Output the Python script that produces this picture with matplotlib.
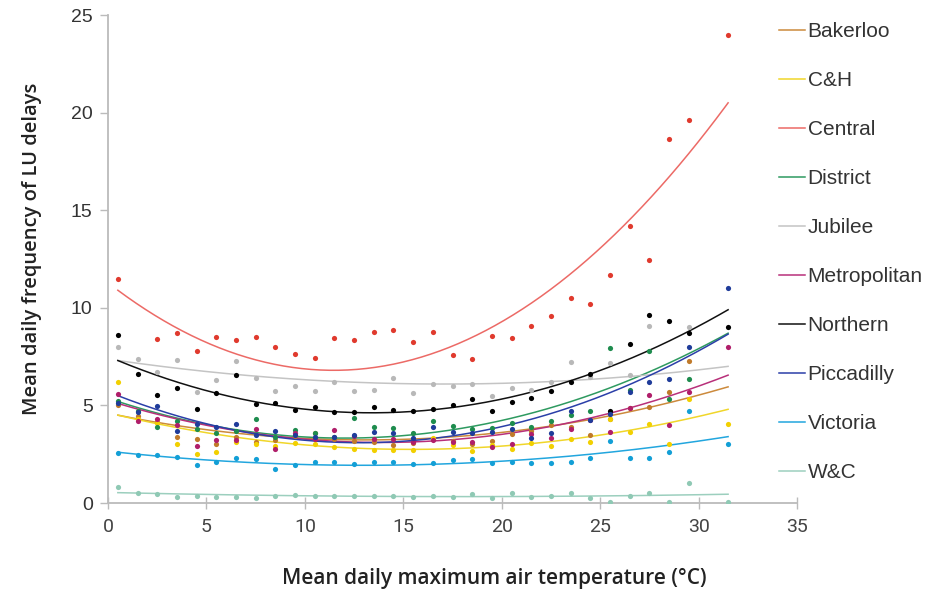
import numpy as np
import matplotlib
matplotlib.use("Agg")
import matplotlib.pyplot as plt

nan = np.nan

# mean daily maximum air temperature bins (°C)
temps = np.arange(0.5, 32.0, 1.0)

lines = ['Bakerloo', 'C&H', 'Central', 'District', 'Jubilee',
         'Metropolitan', 'Northern', 'Piccadilly', 'Victoria', 'W&C']

# mean daily delays per temperature bin
bakerloo = [5.0, 4.47, 4.13, 3.4, 3.26, 3.04, 3.4, 3.1, 3.23, 3.45, 3.6, 3.3,
            3.2, 3.1, 2.95, 3.05, 3.3, 3.2, 3.0, 3.18, 3.53, 3.69, 3.98, 3.9,
            3.48, 4.3, 4.85, 4.94, 5.67, 7.29, nan, nan]
ch = [6.2, 4.3, 4.12, 3.0, 2.53, 2.6, 3.1, 3.0, 2.9, 3.05, 3.0, 2.85,
      2.75, 2.71, 2.71, 2.71, 3.33, 2.99, 2.66, 2.95, 2.78, 3.07, 2.94, 3.3,
      3.14, 4.29, 3.62, 4.06, 3.0, 5.31, nan, 4.03]
central = [11.5, nan, 8.4, 8.7, 7.8, 8.5, 8.35, 8.5, 8.0, 7.65, 7.45, 8.47,
           8.33, 8.75, 8.86, 8.27, 8.75, 7.58, 7.38, 8.54, 8.47, 9.07, 9.56, 10.5,
           10.2, 11.7, 14.2, 12.43, 18.66, 19.6, nan, 23.96]
district = [5.2, 4.7, 3.89, 4.2, 3.8, 3.6, 3.7, 4.29, 3.4, 3.74, 3.59, 3.4,
            4.37, 3.89, 3.86, 3.57, 4.22, 3.94, 3.81, 3.83, 4.08, 3.89, 4.22, 4.5,
            4.7, 7.92, 5.81, 7.79, 5.33, 6.35, nan, nan]
jubilee = [7.99, 7.38, 6.69, 7.33, 5.67, 6.28, 7.26, 6.42, 5.74, 5.98, 5.74, 6.22,
           5.74, 5.81, 6.42, 5.65, 6.08, 6.01, 6.08, 5.46, 5.87, 5.81, 6.2, 7.24,
           6.47, 7.17, 6.56, 9.08, nan, 9.03, nan, nan]
metropolitan = [5.6, 4.2, 4.3, 4.0, 2.94, 3.21, 3.21, 3.81, 2.77, 3.6, 3.3, 3.72,
                3.42, 3.26, 3.26, 3.14, 3.21, 3.14, 3.14, 2.89, 3.02, 3.55, 3.35, 3.79,
                4.25, 3.62, 4.85, 5.52, 4.01, 5.67, nan, 7.97]
northern = [8.59, 6.63, 5.53, 5.87, 4.83, 5.65, 6.56, 5.05, 5.12, 4.78, 4.92, 4.64,
            4.64, 4.93, 4.76, 4.71, 4.82, 5.0, 5.33, 4.70, 5.16, 5.40, 5.74, 6.22,
            6.61, 4.70, 8.13, 9.63, 9.34, 8.69, nan, 9.03]
piccadilly = [5.1, 4.68, 4.99, 3.67, 4.05, 3.88, 4.03, 3.5, 3.67, 3.48, 3.4, 3.4,
              3.48, 3.62, 3.6, 3.33, 3.91, 3.64, 3.57, 3.62, 3.81, 3.35, 3.6, 4.7,
              4.25, 4.56, 5.67, 6.22, 6.34, 7.97, nan, 11.0]
victoria = [2.58, 2.44, 2.44, 2.37, 1.96, 2.12, 2.29, 2.24, 1.76, 1.96, 2.12, 2.08,
            1.98, 2.08, 2.12, 1.98, 2.05, 2.19, 2.25, 2.05, 2.12, 2.05, 2.05, 2.12,
            2.31, 3.19, 2.31, 2.32, 2.63, 4.7, nan, 3.0]
wc = [0.82, 0.51, 0.46, 0.32, 0.38, 0.31, 0.31, 0.24, 0.38, 0.41, 0.38, 0.38,
      0.38, 0.38, 0.35, 0.31, 0.35, 0.31, 0.44, 0.27, 0.51, 0.31, 0.38, 0.51,
      0.24, 0.07, 0.38, 0.51, 0.07, 1.0, nan, 0.07]

# polynomial trend lines, values at these temperatures
trend_temps = [0.5, 16.0, 31.5]
bakerloo_trend = [4.5, 3.3, 5.95]
ch_trend = [4.5, 2.75, 4.8]
central_trend = [10.9, 7.5, 20.5]
district_trend = [5.2, 3.55, 8.7]
jubilee_trend = [7.3, 6.1, 7.0]
metropolitan_trend = [5.1, 3.15, 6.55]
northern_trend = [7.3, 4.73, 9.9]
piccadilly_trend = [5.5, 3.25, 8.65]
victoria_trend = [2.6, 1.97, 3.4]
wc_trend = [0.53, 0.33, 0.45]

series = [bakerloo, ch, central, district, jubilee,
          metropolitan, northern, piccadilly, victoria, wc]
trends = [bakerloo_trend, ch_trend, central_trend, district_trend, jubilee_trend,
          metropolitan_trend, northern_trend, piccadilly_trend, victoria_trend, wc_trend]
dot_colors = ['#C07A2A', '#F2D000', '#E03A2E', '#1E8C4E', '#B8B8B8',
              '#B01E6A', '#000000', '#1F3C9A', '#139FD6', '#8FC9B4']
line_colors = ['#CC8A3C', '#F0D62A', '#EC6A66', '#2E9A60', '#C4C4C4',
               '#B8307A', '#111111', '#2B3FA8', '#22A6DE', '#9CCFBE']

fig = plt.figure(figsize=(9.45, 5.93), dpi=100)
ax = fig.add_axes([108 / 945, 1 - 503 / 593, (797 - 108) / 945, (503 - 15) / 593])

xfit = np.linspace(temps[0], temps[-1], 200)
for name, vals, tr, dc, lc in zip(lines, series, trends, dot_colors, line_colors):
    y = np.array(vals, dtype=float)
    ok = ~np.isnan(y)
    ax.scatter(temps[ok], y[ok], s=14, color=dc, zorder=3, linewidths=0)
    coef = np.polyfit(trend_temps, tr, 2)
    ax.plot(xfit, np.polyval(coef, xfit), color=lc, lw=1.1, label=name, zorder=2)

ax.set_xlim(0, 35)
ax.set_ylim(0, 25)
ax.set_xticks(range(0, 36, 5))
ax.set_yticks(range(0, 26, 5))
for s in ['top', 'right']:
    ax.spines[s].set_visible(False)
for s in ['left', 'bottom']:
    ax.spines[s].set_color('#BBBBBB')
    ax.spines[s].set_linewidth(1.3)
ax.tick_params(colors='#BBBBBB', labelcolor='#333333', width=1.0)
ax.tick_params(axis='y', length=6, pad=5, labelsize=14)
ax.tick_params(axis='x', direction='inout', length=8, pad=7, labelsize=14)
for lab in ax.get_yticklabels():
    lab.set_family('Liberation Sans')
for lab in ax.get_xticklabels():
    lab.set_family('Roboto')
    lab.set_color('#444444')

fig.text(32 / 945, 1 - 249 / 593, 'Mean daily frequency of LU delays', rotation=90,
         ha='center', va='center', fontsize=14.5, fontweight='semibold',
         family='Open Sans', color='#222222')
fig.text(494 / 945, 1 - 578 / 593, 'Mean daily maximum air temperature (°C)',
         ha='center', va='center', fontsize=15, fontweight='semibold',
         family='Open Sans', color='#222222')

leg = ax.legend(loc='upper left', bbox_to_anchor=(779 / 945, 1 - 22 / 593),
                bbox_transform=fig.transFigure, frameon=False,
                handlelength=1.25, handletextpad=0.12, labelspacing=1.44,
                borderaxespad=0, borderpad=0,
                prop={'family': 'Liberation Sans', 'size': 15})
for t in leg.get_texts():
    t.set_color('#333333')

fig.savefig('out.png', dpi=100)
